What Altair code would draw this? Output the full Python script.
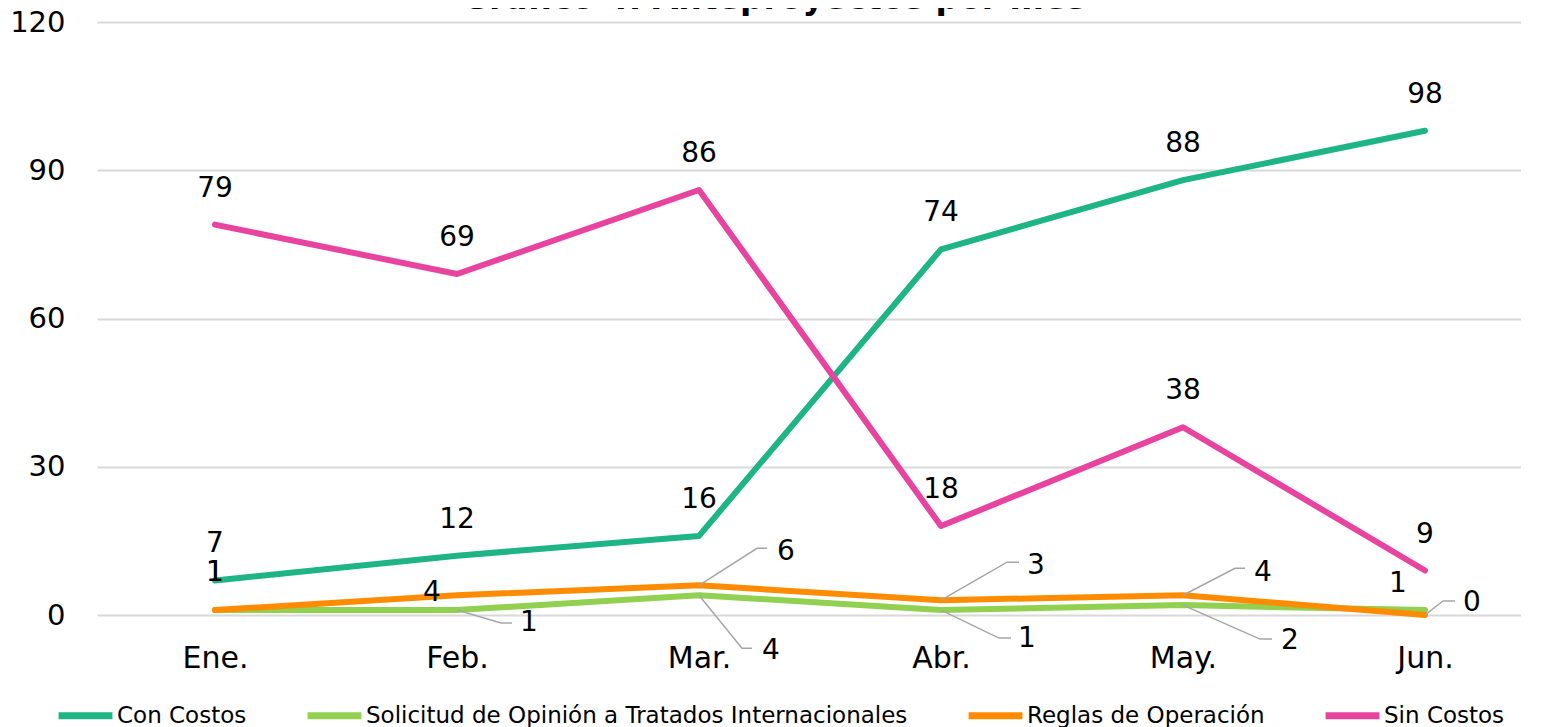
import json
import altair as alt
import pandas as pd

# ---------------- data ----------------
months = ["Ene.", "Feb.", "Mar.", "Abr.", "May.", "Jun."]
series_names = [
    "Con Costos",
    "Solicitud de Opinión a Tratados Internacionales",
    "Reglas de Operación",
    "Sin Costos",
]
con_costos = [7, 12, 16, 74, 88, 98]
solicitud = [1, 1, 4, 1, 2, 1]
reglas = [1, 4, 6, 3, 4, 0]
sin_costos = [79, 69, 86, 18, 38, 9]
y_ticks = [0, 30, 60, 90, 120]
title_text = "Gráfico 4. Anteproyectos por mes"

# ---------------- style / layout ----------------
colors = ["#1db584", "#92d050", "#ff8c00", "#e8449f"]
FONT = "DejaVu Sans"
PLOT_W = 1424
PLOT_H = 593
X_FIRST = 118          # px of the first month inside plot
STEP = 242             # px between months
Y_MAX = 120
PX_Y = PLOT_H / Y_MAX

# label offsets (pixels) relative to each data point
label_offsets = {
    "Con Costos": [(0, -36)] * 6,
    "Sin Costos": [(0, -36)] * 6,
    "Solicitud de Opinión a Tratados Internacionales":
        [(0, -37), (72, 13), (72, 56), (86, 29), (107, 36), (-27, -26)],
    "Reglas de Operación":
        [(0, -37), (-25, -2), (87, -33), (95, -34), (80, -22), (47, -12)],
}
# leader lines (elbow, end) in pixels, keyed by month index
leader_offsets = {
    "Solicitud de Opinión a Tratados Internacionales": {
        1: [(44, 13), (55, 13)], 2: [(43, 53), (53, 53)],
        3: [(58, 28), (70, 28)], 4: [(77, 34), (89, 34)],
    },
    "Reglas de Operación": {
        2: [(58, -37), (68, -37)], 3: [(66, -38), (78, -38)],
        4: [(52, -27), (62, -27)], 5: [(18, -14), (30, -14)],
    },
}

values = {
    series_names[0]: con_costos,
    series_names[1]: solicitud,
    series_names[2]: reglas,
    series_names[3]: sin_costos,
}

line_rows, label_rows, leader_rows = [], [], []
lid = 0
for s in series_names:
    for i, v in enumerate(values[s]):
        line_rows.append({"series": s, "mi": i, "value": v})
        dx, dy = label_offsets[s][i]
        label_rows.append({"series": s, "mi": i + dx / STEP,
                           "value": v - dy / PX_Y, "txt": str(v)})
    for i, pts in leader_offsets.get(s, {}).items():
        v = values[s][i]
        chain = [(0, 0)] + pts
        for k, (dx, dy) in enumerate(chain):
            leader_rows.append({"lid": lid, "k": k, "mi": i + dx / STEP,
                                "value": v - dy / PX_Y})
        lid += 1

lines_df = pd.DataFrame(line_rows)
labels_df = pd.DataFrame(label_rows)
leaders_df = pd.DataFrame(leader_rows)

x_domain = [-X_FIRST / STEP, (PLOT_W - X_FIRST) / STEP]
x_enc = alt.X(
    "mi:Q",
    scale=alt.Scale(domain=x_domain, nice=False, zero=False),
    axis=alt.Axis(
        values=list(range(len(months))),
        labelExpr=f"{json.dumps(months)}[datum.value]",
        title=None, grid=False, domain=False, ticks=False, tickSize=0,
        labelFont=FONT, labelFontSize=30, labelColor="#000000",
        labelPadding=52, labelBaseline="alphabetic", labelFlush=False,
    ),
)
y_enc = alt.Y(
    "value:Q",
    scale=alt.Scale(domain=[0, Y_MAX], nice=False, zero=True),
    axis=alt.Axis(
        values=y_ticks, title=None, domain=False, ticks=False, tickSize=0,
        grid=True, gridColor="#d9d9d9", gridWidth=2,
        labelFont=FONT, labelFontSize=29, labelColor="#000000",
        labelPadding=32, labelBaseline="middle",
    ),
)

lines = alt.Chart(lines_df).mark_line(
    strokeWidth=6, strokeCap="round", strokeJoin="round"
).encode(
    x=x_enc,
    y=y_enc,
    color=alt.Color(
        "series:N",
        scale=alt.Scale(domain=series_names, range=colors),
        sort=series_names,
        legend=alt.Legend(
            title=None, orient="none", direction="horizontal", columns=4,
            legendX=-42, legendY=663,
            symbolType="stroke", symbolSize=2900, symbolStrokeWidth=7,
            labelFont=FONT, labelFontSize=23, labelColor="#000000",
            labelOffset=1, columnPadding=46, labelLimit=800,
        ),
    ),
    order=alt.Order("mi:Q"),
)

leaders = alt.Chart(leaders_df).mark_line(
    color="#a6a6a6", strokeWidth=1.5
).encode(
    x="mi:Q", y="value:Q", detail="lid:N", order="k:Q"
)

labels = alt.Chart(labels_df).mark_text(
    font=FONT, fontSize=28, color="#000000", align="center", baseline="middle"
).encode(
    x="mi:Q", y="value:Q", text="txt:N"
)

chart = alt.layer(lines, leaders, labels).properties(
    width=PLOT_W,
    height=PLOT_H,
    padding={"left": 89, "top": 14, "right": 0, "bottom": 112},
    autosize=alt.AutoSizeParams(type="none"),
    title=alt.TitleParams(
        title_text, font=FONT, fontSize=33, fontWeight="bold",
        color="#000000", offset=-8, anchor="middle", dx=-35,
    ),
).configure_view(stroke=None)

chart.save("out.html", embed_options={"renderer": "svg", "actions": False})
